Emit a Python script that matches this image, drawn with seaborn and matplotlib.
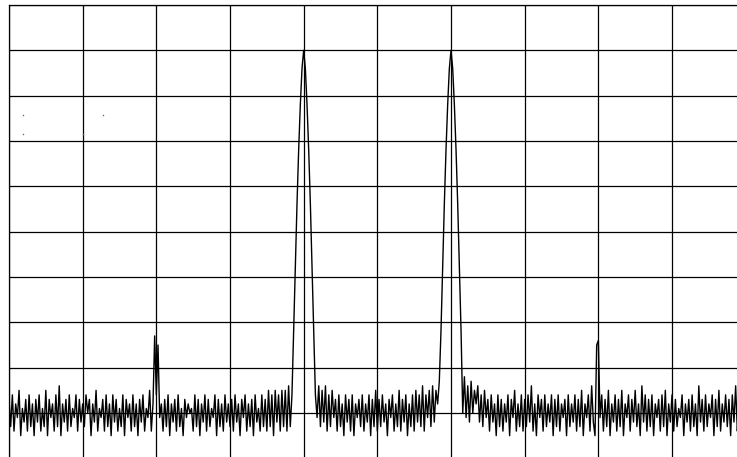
import numpy as np
import pandas as pd
import matplotlib
matplotlib.use("Agg")
import matplotlib.pyplot as plt
import seaborn as sns

# Trace samples (dB), 44 samples per horizontal division, 10 divisions
level_db = [
    # div 0
    -87, -93, -86, -94, -88, -91, -85, -95, -89, -92, -87,
    -94, -86, -93, -88, -95, -87, -92, -86, -94, -89, -93,
    -85, -95, -87, -91, -88, -94, -86, -93, -84, -95, -88,
    -92, -87, -94, -86, -93, -89, -91, -86, -94, -87, -92,
    # div 1
    -88, -93, -86, -90, -87, -95, -88, -92, -85, -94, -89,
    -91, -87, -94, -86, -93, -88, -95, -86, -92, -87, -94,
    -89, -93, -86, -95, -87, -91, -88, -94, -86, -93, -88,
    -95, -87, -92, -86, -94, -89, -91, -85, -94, -88, -73,
    # div 2
    -86, -75, -91, -88, -94, -87, -93, -86, -95, -88, -92,
    -87, -94, -86, -93, -89, -95, -87, -91, -88, -90, -89,
    -94, -86, -93, -87, -95, -88, -92, -86, -94, -87, -93,
    -89, -91, -86, -95, -87, -93, -88, -94, -86, -92, -88,
    # div 3
    -93, -87, -94, -86, -92, -88, -95, -87, -91, -86, -94,
    -88, -93, -87, -95, -86, -92, -89, -94, -86, -93, -87,
    -94, -85, -93, -86, -95, -85, -92, -86, -94, -85, -93,
    -85, -94, -84, -93, -86, -72, -58, -44, -32, -22, -14,
    # div 4
    -10, -14, -22, -32, -44, -58, -72, -86, -91, -84, -93,
    -85, -92, -84, -94, -86, -93, -85, -91, -87, -94, -86,
    -93, -88, -95, -86, -92, -87, -94, -86, -95, -88, -91,
    -87, -93, -86, -94, -88, -92, -86, -95, -87, -93, -85,
    # div 5
    -94, -87, -93, -86, -92, -88, -95, -87, -91, -86, -94,
    -88, -93, -85, -94, -87, -92, -86, -95, -88, -93, -86,
    -94, -85, -92, -86, -93, -84, -94, -86, -91, -85, -93,
    -84, -92, -85, -88, -83, -72, -58, -44, -32, -22, -14,
    # div 6
    -10, -14, -22, -32, -44, -58, -72, -90, -82, -91, -84,
    -92, -83, -90, -85, -88, -84, -92, -86, -93, -85, -91,
    -87, -94, -86, -92, -88, -95, -86, -93, -87, -94, -88,
    -92, -86, -95, -87, -91, -85, -94, -88, -93, -86, -94,
    # div 7
    -87, -93, -86, -92, -84, -94, -88, -95, -86, -91, -87,
    -94, -86, -93, -88, -92, -86, -95, -87, -93, -86, -94,
    -88, -91, -87, -95, -86, -93, -88, -92, -86, -94, -87,
    -93, -85, -95, -88, -91, -86, -94, -84, -92, -95, -75,
    # div 8
    -74, -91, -86, -94, -87, -93, -85, -95, -88, -92, -86,
    -94, -87, -93, -85, -95, -88, -91, -86, -94, -87, -92,
    -85, -93, -88, -95, -84, -92, -86, -94, -87, -93, -86,
    -95, -88, -91, -87, -94, -86, -93, -85, -95, -88, -92,
    # div 9
    -86, -94, -87, -93, -89, -91, -86, -95, -88, -92, -87,
    -94, -86, -93, -88, -95, -84, -92, -87, -94, -86, -93,
    -88, -91, -86, -95, -87, -93, -85, -94, -88, -92, -86,
    -93, -87, -95, -86, -92, -84, -94, -88, -91, -86, -93,
    -88,
]
samples_per_div = 44

# small stray marker dots (div, dB)
dot_x = [0.19, 1.275, 0.19, 1.004]
dot_y = [-24.3, -24.3, -28.5, -28.5]

x_div_ticks = list(range(0, 11))
y_db_ticks = list(range(-100, 1, 10))

df = pd.DataFrame({
    "div": np.arange(len(level_db)) / samples_per_div,
    "level": level_db,
})

sns.set_theme(style="white")
fig = plt.figure(figsize=(7.37, 4.57), dpi=100)
ax = fig.add_axes([9 / 737, -0.0029, 0.99959, 0.99197])

sns.lineplot(data=df, x="div", y="level", color="black", linewidth=1.0,
             ax=ax, estimator=None, sort=False)
ax.scatter(dot_x, dot_y, s=1.2, color="#666666", linewidths=0)

ax.set_xlim(0, 10)
ax.set_ylim(-100, 0)
ax.set_xticks(x_div_ticks)
ax.set_yticks(y_db_ticks)
ax.set_xticklabels([])
ax.set_yticklabels([])
ax.tick_params(length=0)
ax.set_xlabel("")
ax.set_ylabel("")
ax.set_axisbelow(True)
ax.grid(True, color="black", linewidth=0.9)
for s in ax.spines.values():
    s.set_color("black")
    s.set_linewidth(0.9)

fig.savefig("out.png", dpi=100)
